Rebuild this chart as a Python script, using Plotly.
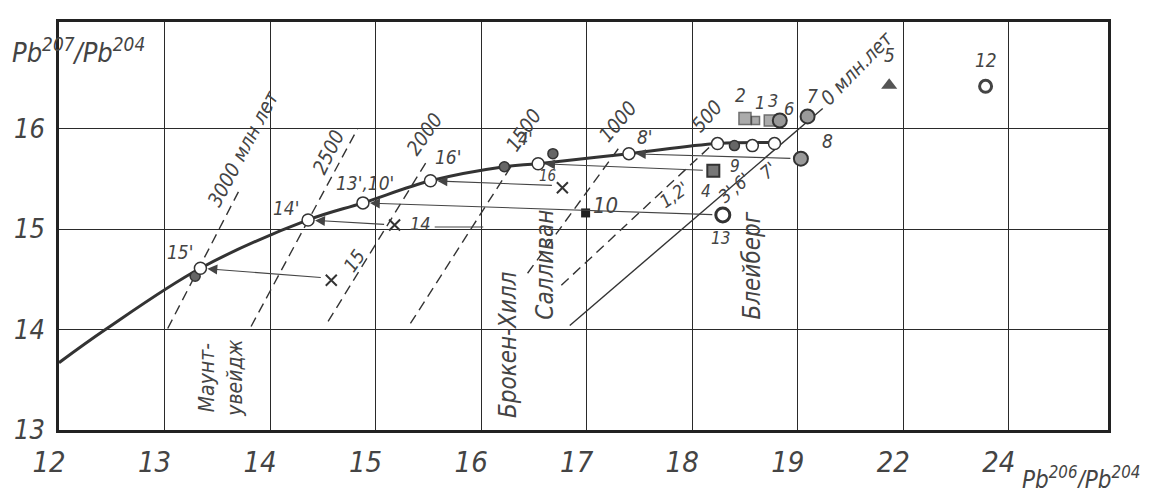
import plotly.graph_objects as go

# ---------------- data (x in real Pb206/Pb204 units; axis is compressed above 19) -------------
x_ticks = [12, 13, 14, 15, 16, 17, 18, 19, 22, 24]
y_ticks = [13, 14, 15, 16]

# growth curve
curve_x = [12.0, 12.44, 13.34, 14.36, 14.88, 15.52, 16.22, 16.54, 17.40, 18.24, 18.78]
curve_y = [13.67, 14.00, 14.61, 15.09, 15.26, 15.48, 15.62, 15.65, 15.75, 15.85, 15.86]

# model points on the curve (open circles)
model_x = [13.34, 14.36, 14.88, 15.52, 16.54, 17.40, 18.24, 18.57, 18.78]
model_y = [14.61, 15.09, 15.26, 15.48, 15.65, 15.75, 15.85, 15.83, 15.85]

# ore points (filled grey circles)
ore_x = [13.29, 16.22, 16.68, 18.40]
ore_y = [14.53, 15.62, 15.75, 15.83]

# samples shown as crosses
cross_x = [14.58, 15.18, 16.77]
cross_y = [14.49, 15.04, 15.41]

# other samples
s10 = (16.99, 15.16)
s13 = (18.29, 15.14)
s4 = (18.20, 15.58)
s8 = (19.09, 15.70)
sq_x = [18.50, 18.60, 18.735]          # samples 2, 1, 3
sq_y = [16.10, 16.08, 16.08]
grey_x = [18.83, 19.28]                # samples 6, 7
grey_y = [16.08, 16.12]
s5 = (21.6, 16.43)
open_x = [23.56, 26.7]                 # samples 12, 11
open_y = [16.42, 16.73]

# projection arrows: sample -> model point
arr_from_x = [14.58, 15.18, 18.29, 16.77, 18.20, 19.09]
arr_from_y = [14.51, 15.04, 15.14, 15.43, 15.58, 15.70]
arr_to_x = [13.34, 14.36, 14.88, 15.52, 16.54, 17.40]
arr_to_y = [14.61, 15.09, 15.26, 15.48, 15.65, 15.75]

# leader line after label 14
lead14_x = [15.56, 16.02]
lead14_y = [15.02, 15.02]

# isochrons (dashed)
iso_labels = ["3000 млн лет", "2500", "2000", "1500", "1000", "500"]
iso_x0 = [13.03, 13.82, 14.55, 15.33, 16.44, 16.76]
iso_y0 = [14.01, 14.03, 14.08, 14.06, 14.56, 14.44]
iso_x1 = [13.70, 14.83, 15.50, 16.30, 17.30, 18.18]
iso_y1 = [15.37, 16.00, 15.70, 15.65, 15.80, 15.83]
iso_lab_x = [13.74, 14.55, 15.46, 16.40, 17.30, 18.14]
iso_lab_y = [15.80, 15.77, 15.95, 15.99, 16.07, 16.12]
iso_lab_ang = [-62, -64, -55, -56, -50, -48]

# geochron (solid)
geo_x = [16.84, 19.71]
geo_y = [14.04, 16.20]
geo_label = "0 млн.лет"
geo_lab = (20.68, 16.60, -46)

# point labels: text, x, y, angle, size
pt_labels = [
    ("15'", 13.15, 14.77, 0, 19), ("14'", 14.15, 15.21, 0, 19), ("13',10'", 14.90, 15.46, 0, 19),
    ("16'", 15.69, 15.72, 0, 19), ("4'", 16.42, 15.90, 0, 18), ("16", 16.63, 15.53, 0, 15),
    ("8'", 17.55, 15.92, 0, 19), ("10", 17.18, 15.23, 0, 22), ("1,2'", 17.83, 15.34, -35, 18),
    ("14", 15.43, 15.05, 0, 18), ("15", 14.80, 14.69, -55, 19), ("13", 18.27, 14.91, 0, 17),
    ("4", 18.13, 15.38, 0, 17), ("3',6'", 18.40, 15.41, -40, 18), ("7'", 18.72, 15.58, -40, 18),
    ("9", 18.41, 15.63, 0, 17), ("8", 19.86, 15.88, 0, 19), ("2", 18.46, 16.33, 0, 19),
    ("1", 18.64, 16.26, 0, 18), ("3", 18.77, 16.28, 0, 18), ("6", 18.92, 16.20, 0, 18),
    ("7", 19.43, 16.32, 0, 19), ("5", 21.6, 16.73, 0, 19), ("12", 23.56, 16.68, 0, 19),
    ("11", 26.7, 17.0, 0, 17),
]

# localities (rotated)
localities = [
    ("Маунт-<br>увейдж", 13.535, 13.52, 21),
    ("Брокен-Хилл", 16.25, 13.85, 24),
    ("Салливан", 16.61, 14.64, 24),
    ("Блейберг", 18.57, 14.64, 24),
]


def xp(v):
    """map real Pb206/Pb204 to axis position (axis compressed above 19)"""
    if v <= 19:
        return v
    if v <= 22:
        return 19 + (v - 19) / 3
    return 20 + (v - 22) / 2


FONT = "Liberation Sans Narrow, DejaVu Sans Condensed, Liberation Sans, sans-serif"
TXT = "#444"
LN = "#2a2a2a"

fig = go.Figure()

# isochrons
for i in range(len(iso_labels)):
    fig.add_trace(go.Scatter(x=[xp(iso_x0[i]), xp(iso_x1[i])], y=[iso_y0[i], iso_y1[i]],
                             mode="lines", line=dict(color="#333", width=1.4, dash="10px,6px"),
                             hoverinfo="skip", showlegend=False))
# geochron
fig.add_trace(go.Scatter(x=[xp(v) for v in geo_x], y=geo_y, mode="lines",
                         line=dict(color="#333", width=1.4), hoverinfo="skip", showlegend=False))
# leader after 14
fig.add_trace(go.Scatter(x=[xp(v) for v in lead14_x], y=lead14_y, mode="lines",
                         line=dict(color="#444", width=1.1), hoverinfo="skip", showlegend=False))
# growth curve
fig.add_trace(go.Scatter(x=[xp(v) for v in curve_x], y=curve_y, mode="lines",
                         line=dict(color="#333", width=3, shape="spline", smoothing=1.0),
                         hoverinfo="skip", showlegend=False))

# arrows
for fx, fy, tx, ty in zip(arr_from_x, arr_from_y, arr_to_x, arr_to_y):
    fig.add_annotation(x=xp(tx), y=ty, ax=xp(fx), ay=fy, axref="x", ayref="y", xref="x", yref="y",
                       text="", showarrow=True, arrowhead=2, arrowsize=1.8, arrowwidth=1.1,
                       arrowcolor="#444", standoff=7, startstandoff=9)

# ore points
fig.add_trace(go.Scatter(x=[xp(v) for v in ore_x], y=ore_y, mode="markers",
                         marker=dict(symbol="circle", size=10, color="#666", line=dict(color="#333", width=1.5)),
                         cliponaxis=False, showlegend=False))
# model points
fig.add_trace(go.Scatter(x=[xp(v) for v in model_x], y=model_y, mode="markers",
                         marker=dict(symbol="circle", size=12, color="white", line=dict(color="#333", width=1.5)),
                         cliponaxis=False, showlegend=False))
# crosses
fig.add_trace(go.Scatter(x=[xp(v) for v in cross_x], y=cross_y, mode="markers",
                         marker=dict(symbol="x-thin", size=11, line=dict(color="#333", width=2)),
                         cliponaxis=False, showlegend=False))
# sample 10 (black bar)
fig.add_trace(go.Scatter(x=[xp(s10[0])], y=[s10[1]], mode="markers",
                         marker=dict(symbol="square", size=9, color="#222"), showlegend=False))
# sample 13
fig.add_trace(go.Scatter(x=[xp(s13[0])], y=[s13[1]], mode="markers",
                         marker=dict(symbol="circle", size=14, color="white", line=dict(color="#333", width=3)),
                         showlegend=False))
# sample 4
fig.add_trace(go.Scatter(x=[xp(s4[0])], y=[s4[1]], mode="markers",
                         marker=dict(symbol="square", size=12, color="#777", line=dict(color="#333", width=2)),
                         showlegend=False))
# sample 8
fig.add_trace(go.Scatter(x=[xp(s8[0])], y=[s8[1]], mode="markers",
                         marker=dict(symbol="circle", size=14, color="#999", line=dict(color="#333", width=2)),
                         cliponaxis=False, showlegend=False))
# squares 2,1,3
fig.add_trace(go.Scatter(x=[xp(v) for v in sq_x], y=sq_y, mode="markers",
                         marker=dict(symbol="square", size=[12, 8, 11], color="#888", line=dict(color="#333", width=1.5)),
                         showlegend=False))
# grey circles 6,7
fig.add_trace(go.Scatter(x=[xp(v) for v in grey_x], y=grey_y, mode="markers",
                         marker=dict(symbol="circle", size=14, color="#999", line=dict(color="#333", width=2)),
                         cliponaxis=False, showlegend=False))
# triangle 5
fig.add_trace(go.Scatter(x=[xp(s5[0])], y=[s5[1]], mode="markers",
                         marker=dict(symbol="triangle-up", size=14, color="#555"), showlegend=False))
# open circles 12, 11
fig.add_trace(go.Scatter(x=[xp(v) for v in open_x], y=open_y, mode="markers",
                         marker=dict(symbol="circle", size=12, color="white", line=dict(color="#444", width=3)),
                         cliponaxis=False, showlegend=False))

# isochron labels
for t, x, y, a in zip(iso_labels, iso_lab_x, iso_lab_y, iso_lab_ang):
    fig.add_annotation(x=xp(x), y=y, text=t, textangle=a, showarrow=False,
                       font=dict(family=FONT, size=20, color=TXT, style="italic"))
fig.add_annotation(x=xp(geo_lab[0]), y=geo_lab[1], text=geo_label, textangle=geo_lab[2], showarrow=False,
                   font=dict(family=FONT, size=20, color=TXT, style="italic"))

for t, x, y, a, s in pt_labels:
    fig.add_annotation(x=xp(x), y=y, text=t, textangle=a, showarrow=False,
                       font=dict(family=FONT, size=s, color=TXT, style="italic"))

for t, x, y, s in localities:
    fig.add_annotation(x=xp(x), y=y, text=t, textangle=-90, showarrow=False,
                       font=dict(family=FONT, size=s, color=TXT, style="italic"))

# axis titles
fig.add_annotation(xref="paper", yref="paper", x=-0.047, y=0.93, xanchor="left", yanchor="middle",
                   text="Pb<sup>207</sup>/Pb<sup>204</sup>", showarrow=False,
                   font=dict(family=FONT, size=27, color=TXT, style="italic"))
fig.add_annotation(xref="paper", yref="paper", x=0.916, y=-0.118, xanchor="left", yanchor="middle",
                   text="Pb<sup>206</sup>/Pb<sup>204</sup>", showarrow=False,
                   font=dict(family=FONT, size=24, color=TXT, style="italic"))

fig.update_xaxes(range=[12, 21.94], tickvals=[xp(t) for t in x_ticks], ticktext=[str(t) for t in x_ticks],
                 showgrid=True, gridcolor=LN, gridwidth=1.3, zeroline=False, automargin=False,
                 showline=True, linecolor="#222", linewidth=2.5, mirror=True, ticks="",
                 tickfont=dict(family=FONT, size=29, color=TXT, style="italic"), ticklabelshift=-10,
                 ticklabelstandoff=4)
fig.update_yaxes(range=[13, 17.06], tickvals=y_ticks, ticktext=[str(t) for t in y_ticks],
                 showgrid=True, gridcolor=LN, gridwidth=1.3, zeroline=False, automargin=False,
                 showline=True, linecolor="#222", linewidth=2.5, mirror=True, ticks="",
                 tickfont=dict(family=FONT, size=27, color=TXT, style="italic"), ticklabelstandoff=6)

fig.update_layout(width=1165, height=488, margin=dict(l=51, r=65, t=14, b=66, autoexpand=False),
                  plot_bgcolor="white", paper_bgcolor="white", showlegend=False)

fig.write_html("out.html")
